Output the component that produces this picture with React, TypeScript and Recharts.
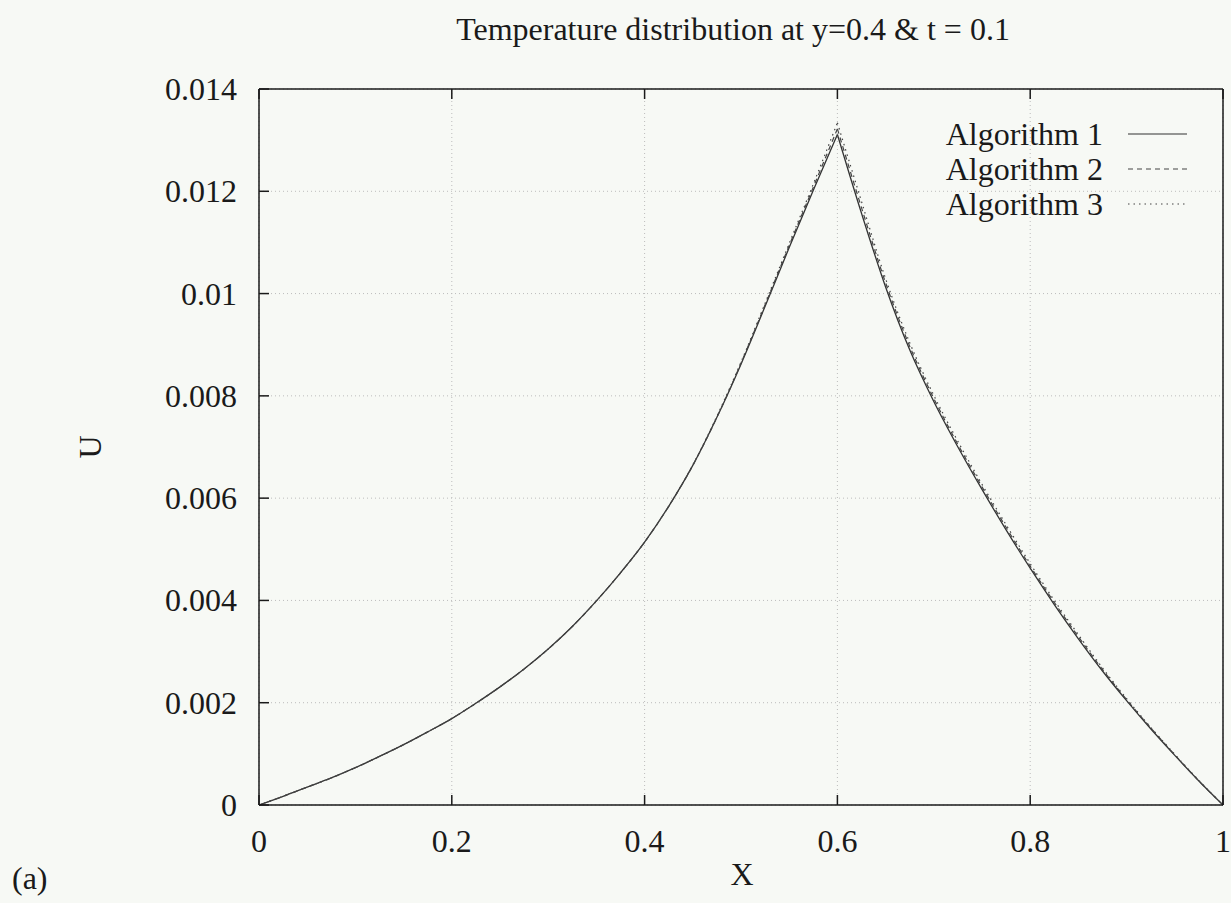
import React from "react";
import { LineChart, Line, XAxis, YAxis, CartesianGrid } from "recharts";

// x positions along the line y=0.4
const xs = [
  0, 0.025, 0.05, 0.075, 0.1, 0.125, 0.15, 0.175, 0.2, 0.225, 0.25, 0.275, 0.3, 0.325,
  0.35, 0.375, 0.4, 0.425, 0.45, 0.475, 0.5, 0.525, 0.55, 0.575, 0.6, 0.625, 0.65,
  0.675, 0.7, 0.725, 0.75, 0.775, 0.8, 0.825, 0.85, 0.875, 0.9, 0.925, 0.95, 0.975, 1,
];

const alg1 = [
  0, 0.00017, 0.00035, 0.00053, 0.00073, 0.00095, 0.00118, 0.00143, 0.00169, 0.00199,
  0.00231, 0.00266, 0.00305, 0.00349, 0.00399, 0.00454, 0.00514, 0.00584, 0.00664,
  0.00758, 0.00862, 0.00975, 0.0109, 0.01202, 0.01311, 0.01157, 0.01013, 0.0089, 0.00789,
  0.007, 0.00617, 0.00538, 0.00463, 0.00392, 0.00325, 0.00262, 0.00204, 0.00149, 0.00097,
  0.00047, 0,
];

const alg2 = [
  0, 0.00017, 0.00035, 0.00053, 0.00073, 0.00095, 0.00118, 0.00143, 0.00169, 0.00199,
  0.00231, 0.00266, 0.00305, 0.00349, 0.00399, 0.00454, 0.00514, 0.00584, 0.00664,
  0.00758, 0.00864, 0.00978, 0.01094, 0.01208, 0.01322, 0.01168, 0.01021, 0.00897,
  0.00795, 0.00705, 0.00622, 0.00543, 0.00467, 0.00396, 0.00329, 0.00265, 0.00206,
  0.00151, 0.00098, 0.00047, 0,
];

const alg3 = [
  0, 0.00017, 0.00035, 0.00053, 0.00073, 0.00095, 0.00118, 0.00143, 0.00169, 0.00199,
  0.00231, 0.00266, 0.00305, 0.00349, 0.00399, 0.00454, 0.00514, 0.00584, 0.00665,
  0.0076, 0.00866, 0.00981, 0.01098, 0.01214, 0.01334, 0.0118, 0.01029, 0.00904,
  0.00801, 0.00711, 0.00627, 0.00548, 0.00472, 0.004, 0.00333, 0.00268, 0.00208,
  0.00152, 0.00099, 0.00048, 0,
];

const xTicks = [0, 0.2, 0.4, 0.6, 0.8, 1];
const yTicks = [0, 0.002, 0.004, 0.006, 0.008, 0.01, 0.012, 0.014];

const seriesNames = ["Algorithm 1", "Algorithm 2", "Algorithm 3"];
const seriesKeys = ["a1", "a2", "a3"];
const seriesDash = ["", "5 4", "1.5 4"];
const seriesColor = ["#333", "#444", "#444"];
const PEAK_X = 0.6;

// each curve split at the source point so the cusp stays sharp with a smooth curve type
const data = xs.map((x, i) => {
  const row: Record<string, number | null> = { x };
  [alg1, alg2, alg3].forEach((s, j) => {
    row[seriesKeys[j] + "L"] = x <= PEAK_X ? s[i] : null;
    row[seriesKeys[j] + "R"] = x >= PEAK_X ? s[i] : null;
  });
  return row;
});

const W = 1231;
const H = 903;
const FONT = "'Liberation Serif', 'Times New Roman', serif";
const INK = "#1a1a1a";
const TICK = 10;

const BottomTick = (p: any) => (
  <g>
    <line x1={p.x} y1={p.y} x2={p.x} y2={p.y - TICK} stroke={INK} strokeWidth={1.5} />
    <text x={p.x} y={p.y + 47} textAnchor="middle" fontFamily={FONT} fontSize={32} fill={INK}>
      {String(p.payload.value)}
    </text>
  </g>
);

const TopTick = (p: any) => (
  <line x1={p.x} y1={p.y} x2={p.x} y2={p.y + TICK} stroke={INK} strokeWidth={1.5} />
);

const LeftTick = (p: any) => (
  <g>
    <line x1={p.x} y1={p.y} x2={p.x + TICK} y2={p.y} stroke={INK} strokeWidth={1.5} />
    <text x={p.x - 22} y={p.y + 11} textAnchor="end" fontFamily={FONT} fontSize={32} fill={INK}>
      {String(p.payload.value)}
    </text>
  </g>
);

const RightTick = (p: any) => (
  <line x1={p.x} y1={p.y} x2={p.x - TICK} y2={p.y} stroke={INK} strokeWidth={1.5} />
);

const axisLine = { stroke: INK, strokeWidth: 1.5 };

const App: React.FC = () => (
  <div style={{ position: "absolute", left: 0, top: 0, width: W, height: H, background: "#f7f9f5" }}>
    <LineChart width={W} height={H} data={data} margin={{ top: 79, right: 0, bottom: 38, left: 139 }}>
      <CartesianGrid stroke="#bcbcbc" strokeDasharray="1 3" />
      <XAxis
        dataKey="x"
        type="number"
        domain={[0, 1]}
        ticks={xTicks}
        height={60}
        tickSize={0}
        tickMargin={0}
        tickLine={false}
        axisLine={axisLine}
        tick={BottomTick}
      />
      <XAxis
        xAxisId="top"
        orientation="top"
        dataKey="x"
        type="number"
        domain={[0, 1]}
        ticks={xTicks}
        height={10}
        tickSize={0}
        tickMargin={0}
        tickLine={false}
        axisLine={axisLine}
        tick={TopTick}
      />
      <YAxis
        type="number"
        domain={[0, 0.014]}
        ticks={yTicks}
        width={120}
        tickSize={0}
        tickMargin={0}
        tickLine={false}
        axisLine={axisLine}
        tick={LeftTick}
      />
      <YAxis
        yAxisId="right"
        orientation="right"
        type="number"
        domain={[0, 0.014]}
        ticks={yTicks}
        width={8}
        tickSize={0}
        tickMargin={0}
        tickLine={false}
        axisLine={axisLine}
        tick={RightTick}
      />
      {seriesKeys.flatMap((k, i) =>
        ["L", "R"].map((side) => (
          <Line
            key={k + side}
            dataKey={k + side}
            type="monotoneX"
            stroke={seriesColor[i]}
            strokeWidth={i === 0 ? 1.3 : 1.2}
            strokeDasharray={seriesDash[i] || undefined}
            dot={false}
            connectNulls={false}
            isAnimationActive={false}
          />
        ))
      )}
    </LineChart>

    {/* titles, axis labels and key */}
    <svg
      width={W}
      height={H}
      style={{ position: "absolute", left: 0, top: 0, pointerEvents: "none" }}
      fontFamily={FONT}
      fill={INK}
    >
      <text x={733} y={40} fontSize={32} textAnchor="middle">
        Temperature distribution at y=0.4 &amp; t = 0.1
      </text>
      <text x={742} y={885} fontSize={32} textAnchor="middle">X</text>
      <text x={0} y={0} fontSize={32} textAnchor="middle" transform="translate(101,447) rotate(-90)">U</text>
      <text x={12} y={889} fontSize={32}>(a)</text>
      {seriesNames.map((name, i) => (
        <g key={name}>
          <text x={1103} y={145 + i * 35} fontSize={32} textAnchor="end">{name}</text>
          <line
            x1={1128}
            x2={1187}
            y1={134 + i * 35}
            y2={134 + i * 35}
            stroke={seriesColor[i]}
            strokeWidth={1.2}
            strokeDasharray={seriesDash[i] || undefined}
          />
        </g>
      ))}
    </svg>
  </div>
);

export default App;
